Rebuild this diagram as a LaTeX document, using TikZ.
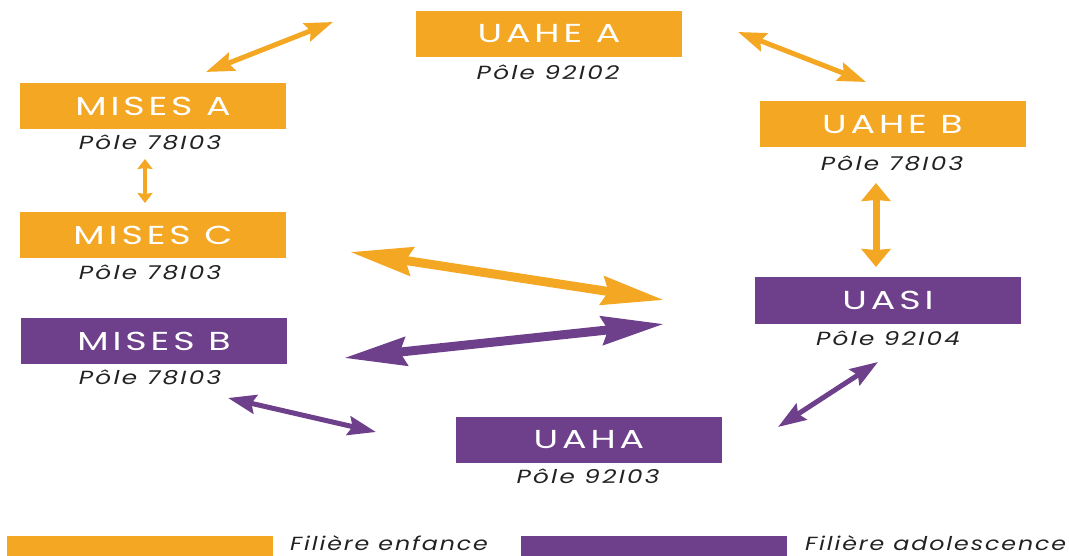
\documentclass[tikz,border=0pt]{standalone}
\usepackage{fontspec}
\usetikzlibrary{arrows.meta}
\newfontfamily\boxfont[FakeStretch=1.4,LetterSpace=15]{Poppins}
\newfontfamily\polefont[FakeStretch=1.3,LetterSpace=12]{Poppins}
\newfontfamily\legfont[FakeStretch=1.25,LetterSpace=10]{Poppins}
\definecolor{orng}{HTML}{F4A722}
\definecolor{purp}{HTML}{6E3F8A}
\definecolor{txt}{HTML}{222222}
\tikzset{
  unitbox/.style={minimum width=266pt, minimum height=46pt, inner sep=0pt, text=white, font=\boxfont\fontsize{26}{26}\selectfont},
  obox/.style={unitbox, fill=orng},
  pbox/.style={unitbox, fill=purp},
  pole/.style={inner sep=0pt, text=txt, font=\polefont\itshape\fontsize{19}{19}\selectfont},
  legtext/.style={inner sep=0pt, anchor=base west, text=txt, font=\legfont\itshape\fontsize{19}{19}\selectfont},
  thinarr/.style={line width=5pt, {Stealth[length=28pt,width=19pt,inset=4pt]}-{Stealth[length=28pt,width=19pt,inset=4pt]}},
  smallarr/.style={line width=4pt, {Stealth[length=10pt,width=15pt,inset=1pt]}-{Stealth[length=10pt,width=15pt,inset=1pt]}},
  midarr/.style={line width=7pt, {Stealth[length=18pt,width=29pt,inset=1pt]}-{Stealth[length=18pt,width=29pt,inset=1pt]}},
  bigarr/.style={line width=9pt, {Stealth[length=62pt,width=28pt,inset=6pt]}-{Stealth[length=62pt,width=28pt,inset=6pt]}},
}
\begin{document}
\begin{tikzpicture}[x=1pt,y=-1pt]
\useasboundingbox (0,0) rectangle (1069,556);
% boxes
\node[obox] (uahea) at (549,34) {UAHE A};
\node[pole] (puahea) at (548,72) {Pôle 92I02};
\node[obox] (misesa) at (153,106) {MISES A};
\node[pole] (pmisesa) at (150,142) {Pôle 78I03};
\node[obox] (misesc) at (153,235.5) {MISES C};
\node[pole] (pmisesc) at (150,272) {Pôle 78I03};
\node[pbox] (misesb) at (154,341) {MISES B};
\node[pole] (pmisesb) at (150,377) {Pôle 78I03};
\node[obox] (uaheb) at (892.5,124.5) {UAHE B};
\node[pole] (puaheb) at (892,163) {Pôle 78I03};
\node[pbox] (uasi) at (888,300.5) {UASI};
\node[pole] (puasi) at (888,338) {Pôle 92I04};
\node[pbox] (uaha) at (589,439.5) {UAHA};
\node[pole] (puaha) at (588,476) {Pôle 92I03};
% legend
\fill[orng] (7,536) rectangle (273,560);
\node[legtext] (lenf) at (290,550) {Filière enfance};
\fill[purp] (521,536) rectangle (787,560);
\node[legtext] (lado) at (805,550) {Filière adolescence};
% arrow end points
\coordinate (a1s) at (206,72);  \coordinate (a1e) at (333,22);
\coordinate (a2s) at (738,32);  \coordinate (a2e) at (866,82);
\coordinate (a3s) at (145,159); \coordinate (a3e) at (145,203);
\coordinate (a4s) at (876,183); \coordinate (a4e) at (876,267);
\coordinate (a5s) at (350,252); \coordinate (a5e) at (664,300);
\coordinate (a6s) at (344,358); \coordinate (a6e) at (664,324);
\coordinate (a7s) at (228,398); \coordinate (a7e) at (376,432);
\coordinate (a8s) at (778,427); \coordinate (a8e) at (878,362);
% arrows
\draw[thinarr, orng] (a1s) -- (a1e);
\draw[thinarr, orng] (a2s) -- (a2e);
\draw[smallarr, orng] (a3s) -- (a3e);
\draw[midarr, orng] (a4s) -- (a4e);
\draw[bigarr, orng] (a5s) -- (a5e);
\draw[bigarr, purp] (a6s) -- (a6e);
\draw[thinarr, purp] (a7s) -- (a7e);
\draw[thinarr, purp] (a8s) -- (a8e);
\end{tikzpicture}
\end{document}
